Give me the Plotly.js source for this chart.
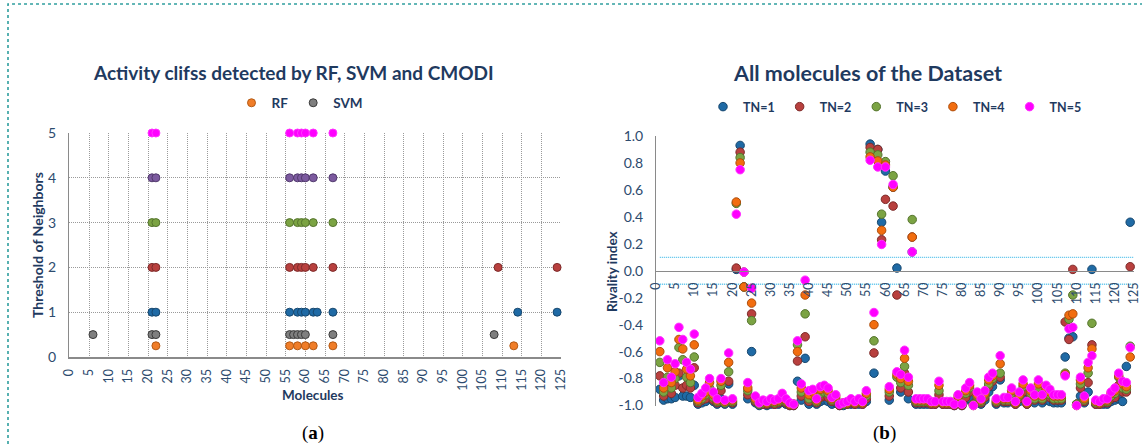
<!DOCTYPE html>
<html><head><meta charset="utf-8">
<script src="https://cdn.plot.ly/plotly-3.0.1.min.js"></script>
<style>html,body{margin:0;padding:0;background:#fff}#chart{width:1142px;height:447px}</style>
</head><body><div id="chart"></div>
<script>
// ---------- Panel (a): Activity cliffs detected by RF, SVM and CMODI ----------
const rfMolecules   = [22,56,58,60,62,67,113];
const rfLevel       = 0.25;
const svmMolecules  = [6,21,22,56,57,58,59,60,67,108];
const svmLevel      = 0.5;
const cmodiTN1 = [21,22,56,58,59,60,62,63,67,114,124];
const cmodiTN2 = [21,22,56,58,59,60,62,67,109,124];
const cmodiTN3 = [21,22,56,58,59,60,62,67];
const cmodiTN4 = [21,22,56,58,59,60,62,67];
const cmodiTN5 = [21,22,56,58,59,60,62,67];
const cmodiLevels = [1,2,3,4,5];

// ---------- Panel (b): All molecules of the Dataset ----------
const molecules = [1,2,3,4,5,6,7,8,9,10,11,12,13,14,15,16,17,18,19,20,
21,22,23,24,25,26,27,28,29,30,31,32,33,34,35,36,37,38,39,40,
41,42,43,44,45,46,47,48,49,50,51,52,53,54,55,56,57,58,59,60,
61,62,63,64,65,66,67,68,69,70,71,72,73,74,75,76,77,78,79,80,
81,82,83,84,85,86,87,88,89,90,91,92,93,94,95,96,97,98,99,100,
101,102,103,104,105,106,107,108,109,110,111,112,113,114,115,116,117,118,119,120,
121,122,123,124];

const rivalityTN1 = [-0.88,-0.96,-0.95,-0.95,-0.94,-0.78,-0.93,-0.93,-0.94,-0.85,
-0.99,-0.98,-0.97,-0.95,-0.97,-0.99,-0.95,-0.99,-0.84,-0.99,
0.01,0.93,-0.12,-0.95,-0.60,-0.98,-1.0,-0.99,-1.0,-0.99,
-0.99,-0.99,-0.97,-0.99,-1.0,-1.0,-0.82,-0.96,-0.65,-0.99,
-0.97,-0.99,-0.97,-0.96,-0.97,-0.99,-0.98,-1.0,-1.0,-0.99,
-0.99,-0.99,-0.99,-0.99,-0.97,0.94,-0.76,0.90,0.36,0.74,
-0.96,0.62,0.02,-0.90,-0.82,-0.95,0.14,-0.99,-0.99,-0.99,
-0.99,-0.99,-0.99,-0.95,-0.99,-0.99,-0.99,-1.0,-0.98,-1.0,
-0.96,-0.95,-0.99,-0.97,-0.99,-0.96,-0.90,-0.86,-0.99,-0.81,
-0.98,-0.98,-0.96,-0.99,-0.97,-0.95,-0.99,-0.96,-0.98,-0.95,
-0.98,-0.96,-0.97,-0.98,-0.98,-0.98,-0.64,-0.50,-0.49,-0.99,
-0.93,-0.98,-0.90,0.01,-0.99,-0.99,-0.99,-0.99,-0.97,-0.96,
-0.95,-0.97,-0.71,0.36];

const rivalityTN2 = [-0.78,-0.93,-0.86,-0.91,-0.85,-0.76,-0.87,-0.85,-0.87,-0.72,
-0.98,-0.96,-0.95,-0.91,-0.96,-0.98,-0.89,-0.98,-0.82,-0.98,
0.02,0.88,-0.01,-0.92,-0.32,-0.97,-0.99,-0.99,-0.99,-0.98,
-0.99,-0.98,-0.96,-0.98,-1.0,-1.0,-0.67,-0.93,-0.49,-0.97,
-0.95,-0.98,-0.94,-0.93,-0.94,-0.97,-0.96,-1.0,-0.99,-0.99,
-0.98,-0.99,-0.98,-0.99,-0.95,0.915,-0.61,0.90,0.23,0.53,
-0.93,0.48,-0.18,-0.87,-0.76,-0.90,0.25,-0.98,-0.98,-0.98,
-0.98,-0.99,-0.99,-0.92,-0.99,-0.99,-0.99,-1.0,-0.96,-1.0,
-0.94,-0.90,-0.99,-0.95,-0.98,-0.94,-0.86,-0.82,-0.98,-0.79,
-0.97,-0.97,-0.94,-0.99,-0.95,-0.90,-0.99,-0.93,-0.96,-0.91,
-0.96,-0.92,-0.94,-0.96,-0.96,-0.96,-0.38,-0.51,0.01,-0.99,
-0.87,-0.97,-0.83,-0.55,-0.99,-0.99,-0.98,-0.98,-0.95,-0.94,
-0.85,-0.90,-0.90,0.03];

const rivalityTN3 = [-0.68,-0.90,-0.79,-0.87,-0.80,-0.57,-0.66,-0.79,-0.83,-0.64,
-0.97,-0.95,-0.92,-0.87,-0.94,-0.97,-0.85,-0.98,-0.75,-0.97,
0.50,0.84,-0.12,-0.89,-0.37,-0.96,-0.99,-0.98,-0.98,-0.97,
-0.98,-0.97,-0.94,-0.97,-0.99,-0.99,-0.55,-0.90,-0.32,-0.95,
-0.93,-0.97,-0.91,-0.90,-0.91,-0.96,-0.95,-0.99,-0.99,-0.98,
-0.97,-0.98,-0.97,-0.98,-0.93,0.88,-0.52,0.86,0.42,0.81,
-0.90,0.705,-0.79,-0.83,-0.71,-0.85,0.38,-0.97,-0.97,-0.97,
-0.97,-0.98,-0.98,-0.89,-0.98,-0.98,-0.98,-0.99,-0.95,-0.99,
-0.91,-0.87,-0.99,-0.93,-0.97,-0.92,-0.84,-0.80,-0.97,-0.76,
-0.96,-0.96,-0.91,-0.98,-0.93,-0.86,-0.98,-0.91,-0.95,-0.87,
-0.95,-0.89,-0.92,-0.95,-0.95,-0.95,-0.76,-0.36,-0.18,-0.99,
-0.84,-0.96,-0.76,-0.39,-0.98,-0.98,-0.97,-0.97,-0.93,-0.91,
-0.79,-0.87,-0.88,-0.56];

const rivalityTN4 = [-0.60,-0.87,-0.72,-0.83,-0.75,-0.51,-0.58,-0.73,-0.78,-0.55,
-0.96,-0.93,-0.90,-0.83,-0.92,-0.96,-0.82,-0.97,-0.68,-0.96,
0.51,0.80,-0.12,-0.87,-0.24,-0.95,-0.98,-0.97,-0.98,-0.96,
-0.97,-0.96,-0.93,-0.96,-0.99,-0.99,-0.60,-0.87,-0.18,-0.92,
-0.90,-0.96,-0.88,-0.87,-0.89,-0.95,-0.93,-0.99,-0.98,-0.98,
-0.96,-0.98,-0.96,-0.98,-0.91,0.845,-0.40,0.815,0.30,0.785,
-0.88,0.62,-0.77,-0.80,-0.65,-0.82,0.25,-0.96,-0.96,-0.96,
-0.96,-0.98,-0.98,-0.85,-0.98,-0.98,-0.98,-0.99,-0.93,-0.99,
-0.89,-0.85,-1.0,-0.92,-0.96,-0.91,-0.81,-0.78,-0.96,-0.69,
-0.95,-0.95,-0.89,-0.98,-0.92,-0.84,-0.98,-0.89,-0.93,-0.84,
-0.93,-0.87,-0.90,-0.93,-0.93,-0.93,-0.77,-0.33,-0.32,-1.0,
-0.81,-0.95,-0.72,-0.58,-0.97,-0.98,-0.96,-0.96,-0.91,-0.89,
-0.78,-0.84,-0.86,-0.64];

const rivalityTN5 = [-0.52,-0.83,-0.66,-0.79,-0.69,-0.42,-0.51,-0.68,-0.73,-0.47,
-0.94,-0.91,-0.87,-0.80,-0.90,-0.95,-0.80,-0.96,-0.61,-0.95,
0.42,0.75,-0.01,-0.83,-0.13,-0.93,-0.98,-0.96,-0.97,-0.95,
-0.96,-0.95,-0.91,-0.95,-0.98,-0.99,-0.52,-0.84,-0.07,-0.89,
-0.88,-0.95,-0.86,-0.85,-0.87,-0.94,-0.92,-0.99,-0.98,-0.97,
-0.95,-0.97,-0.95,-0.97,-0.89,0.82,-0.31,0.77,0.195,0.77,
-0.86,0.64,-0.75,-0.77,-0.59,-0.79,0.14,-0.95,-0.95,-0.95,
-0.95,-0.97,-0.97,-0.82,-0.97,-0.97,-0.97,-0.99,-0.92,-0.99,
-0.87,-0.83,-1.0,-0.90,-0.95,-0.89,-0.79,-0.76,-0.95,-0.63,
-0.94,-0.94,-0.87,-0.97,-0.90,-0.81,-0.97,-0.87,-0.92,-0.81,
-0.92,-0.85,-0.88,-0.92,-0.92,-0.92,-0.78,-0.43,-0.42,-1.0,
-0.79,-0.93,-0.68,-0.63,-0.96,-0.97,-0.95,-0.95,-0.90,-0.87,
-0.76,-0.82,-0.83,-0.57];

const rivalityRefLevels = [0.1, -0.1];
const rivalityTickVals = [-1.0,-0.8,-0.6,-0.4,-0.2,0.0,0.2,0.4,0.6,0.8,1.0];
const rivalityTickText = ['-1.0','-0.8','-0.6','-0.4','-0.2','0.0','0.2','0.4','0.6','0.8','1.0'];
const tnNames = ['TN=1','TN=2','TN=3','TN=4','TN=5'];

// ---------- styles ----------
const FONT = 'Lato, "Open Sans", "DejaVu Sans", sans-serif';
const NAVY = '#1f3a5f';
const TICK = '#2d4b6e';
const tnFill = ['#1f6aa5','#b8403e','#7ba343','#f26d0f','#ff00ff'];
const tnLine = ['#17476e','#7d2b2a','#55742d','#ad4d0c','#ff33ff'];
const cmodiFill = ['#1f6aa5','#b8403e','#7ba343','#7c5a9f','#ff00ff'];
const cmodiLine = ['#17476e','#7d2b2a','#55742d','#523a6d','#ff33ff'];

const W = 1142, H = 447;
const px = v => v / W;
const py = v => 1 - v / H;

const traces = [];
// Panel (a)
const cmodiSets = [cmodiTN1, cmodiTN2, cmodiTN3, cmodiTN4, cmodiTN5];
cmodiSets.forEach((xs, i) => {
  traces.push({
    type:'scatter', mode:'markers', x: xs, y: xs.map(() => cmodiLevels[i]),
    xaxis:'x', yaxis:'y', showlegend:false, cliponaxis:false, hoverinfo:'skip',
    marker:{size:8, color:cmodiFill[i], line:{color:cmodiLine[i], width:1}}
  });
});
traces.push({
  type:'scatter', mode:'markers', name:'RF', x: rfMolecules, y: rfMolecules.map(() => rfLevel),
  xaxis:'x', yaxis:'y', legend:'legend', cliponaxis:false,
  marker:{size:8, color:'#f07d28', line:{color:'#b35a16', width:1}}
});
traces.push({
  type:'scatter', mode:'markers', name:'SVM', x: svmMolecules, y: svmMolecules.map(() => svmLevel),
  xaxis:'x', yaxis:'y', legend:'legend', cliponaxis:false,
  marker:{size:8, color:'#7f7f7f', line:{color:'#3a3a3a', width:1}}
});

// Panel (b) reference lines
rivalityRefLevels.forEach(lv => {
  traces.push({
    type:'scatter', mode:'lines', x:[molecules[0], 125], y:[lv, lv],
    xaxis:'x2', yaxis:'y2', showlegend:false, hoverinfo:'skip',
    line:{color:'#4fbfea', width:1.3, dash:'1px,1px'}
  });
});
// Panel (b) series
const rivSets = [rivalityTN1, rivalityTN2, rivalityTN3, rivalityTN4, rivalityTN5];
rivSets.forEach((ys, i) => {
  traces.push({
    type:'scatter', mode:'markers', name: tnNames[i], x: molecules, y: ys,
    xaxis:'x2', yaxis:'y2', legend:'legend2', cliponaxis:false,
    marker:{size:8.5, color:tnFill[i], line:{color:tnLine[i], width:1}}
  });
});

const gridAxis = {
  showgrid:true, gridcolor:'#9a9a9a', griddash:'1px,1px', gridwidth:1, zeroline:false,
  ticks:'', tickfont:{family:FONT, size:12.5, color:TICK}, fixedrange:true
};

function ann(text, x, y, size, extra) {
  return Object.assign({
    text, xref:'paper', yref:'paper', x:px(x), y:py(y), xanchor:'center', yanchor:'middle',
    showarrow:false, font:{family:FONT, size, color:NAVY, weight:'bold'}
  }, extra || {});
}

const layout = {
  width:W, height:H,
  margin:{l:0, r:0, t:0, b:0},
  paper_bgcolor:'#ffffff', plot_bgcolor:'rgba(0,0,0,0)',
  font:{family:FONT, color:TICK},
  xaxis: Object.assign({}, gridAxis, {
    domain:[px(69.4), px(561)], range:[0,125], tick0:0, dtick:5, tickangle:-90,
    showline:true, linecolor:'#8a8a8a', linewidth:2, anchor:'y', ticklabelstandoff:5
  }),
  yaxis: Object.assign({}, gridAxis, {
    domain:[py(357), py(133)], range:[0,5], tick0:0, dtick:1,
    showline:true, linecolor:'#8a8a8a', linewidth:1.5, anchor:'x', ticklabelstandoff:9,
    tickfont:{family:FONT, size:14, color:TICK}
  }),
  xaxis2: {
    domain:[px(656), px(1134)], range:[0,125], tick0:0, dtick:5, tickangle:-90,
    anchor:'free', position: py(270.5), showgrid:false, zeroline:false,
    showline:true, linecolor:'#8a8a8a', linewidth:1, ticks:'', ticklabelstandoff:6,
    tickfont:{family:FONT, size:12.5, color:TICK}, fixedrange:true
  },
  yaxis2: {
    domain:[py(405.5), py(136)], range:[-1,1], tickvals:rivalityTickVals, ticktext:rivalityTickText,
    anchor:'x2', showgrid:false, zeroline:false, showline:true, linecolor:'#8a8a8a', linewidth:1,
    ticks:'', ticklabelstandoff:9, tickfont:{family:FONT, size:14, color:TICK}, fixedrange:true
  },
  legend: {
    orientation:'h', x:px(300), xanchor:'center', y:py(103), yanchor:'middle',
    font:{family:FONT, size:13.5, color:NAVY, weight:'bold'}, itemwidth:30, bgcolor:'rgba(0,0,0,0)',
    traceorder:'normal'
  },
  legend2: {
    orientation:'h', x:px(895), xanchor:'center', y:py(107), yanchor:'middle',
    font:{family:FONT, size:12.5, color:NAVY, weight:'bold'}, itemwidth:30, bgcolor:'rgba(0,0,0,0)',
    traceorder:'normal'
  },
  shapes: [{
    type:'rect', xref:'paper', yref:'paper', x0:px(8), x1:1.02, y0:-0.05, y1:py(4),
    line:{color:'#2f9e9e', width:1.6, dash:'dot'}, fillcolor:'rgba(0,0,0,0)', layer:'below'
  }],
  annotations: [
    ann('Activity clifss detected by RF, SVM and CMODI', 293, 72, 19),
    ann('All molecules of the Dataset', 867, 73, 21.5),
    ann('Molecules', 313, 395, 13.5),
    ann('Threshold of Neighbors', 38, 245, 14, {textangle:-90}),
    ann('Rivality index', 612, 272, 13.5, {textangle:-90}),
    ann('(<b>a</b>)', 313, 433, 19, {font:{family:'"Liberation Serif", "DejaVu Serif", serif', size:19, color:'#000'}}),
    ann('(<b>b</b>)', 884, 433, 19, {font:{family:'"Liberation Serif", "DejaVu Serif", serif', size:19, color:'#000'}})
  ]
};

Plotly.newPlot('chart', traces, layout, {staticPlot:true, displayModeBar:false});
</script>
</body></html>
